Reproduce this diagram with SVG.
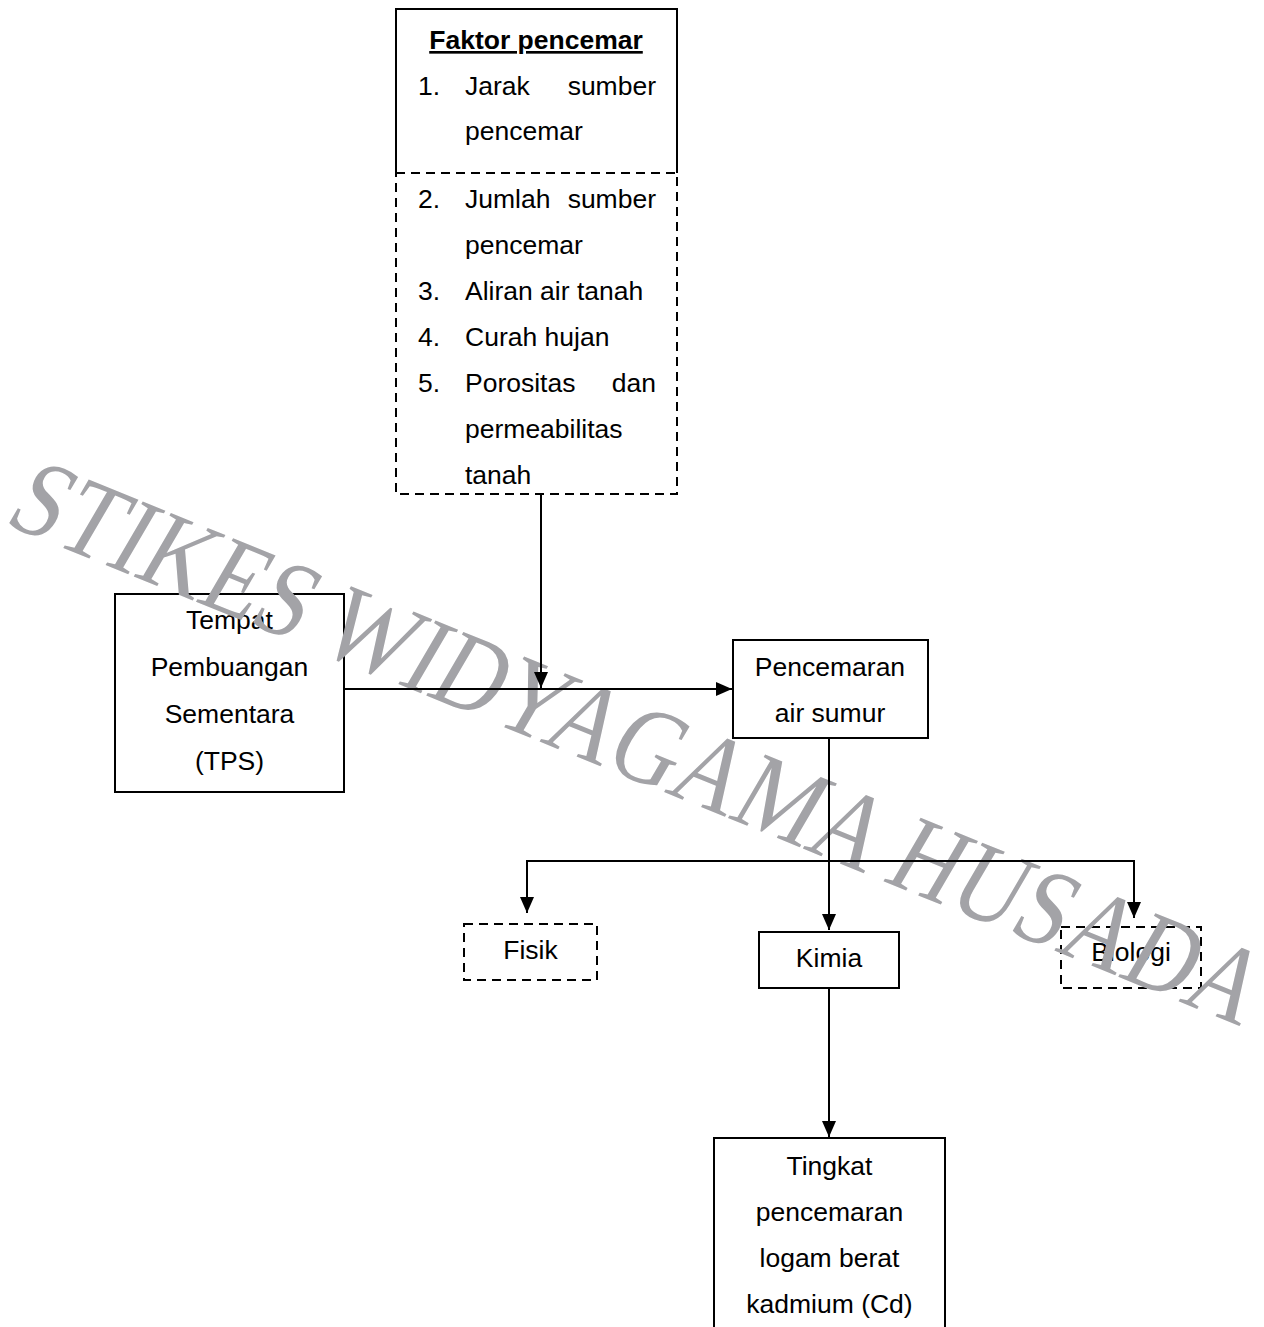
<svg xmlns="http://www.w3.org/2000/svg" width="1264" height="1327" viewBox="0 0 1264 1327">
<style>
  .t { font-family: "Liberation Sans", Arial, sans-serif; font-size: 26.5px; fill: #000; }
  .c { text-anchor: middle; }
  .e { text-anchor: end; }
  .box { fill: #fff; stroke: #000; stroke-width: 2; }
  .solid { fill: none; stroke: #000; stroke-width: 2; }
  .dash { fill: none; stroke: #000; stroke-width: 2; stroke-dasharray: 9 6; }
  .conn { fill: none; stroke: #000; stroke-width: 2; marker-end: url(#ah); }
  .line { fill: none; stroke: #000; stroke-width: 2; }
  .wm { font-family: "Liberation Serif", "Times New Roman", serif; font-size: 80px; fill: #a3a3a7; }
</style>
<defs>
  <marker id="ah" markerUnits="userSpaceOnUse" markerWidth="16" markerHeight="14" viewBox="0 0 16 14" refX="16" refY="7" orient="auto">
    <path d="M0,0 L16,7 L0,14 z" fill="#000"/>
  </marker>
</defs>
<rect width="1264" height="1327" fill="#fff"/>

<g id="faktor">
  <path class="solid" d="M396,173 V9 H677 V173"/>
  <path class="dash" d="M396,173 H677 V494 H396 Z"/>
  <text class="t c" x="536" y="49" font-weight="bold" text-decoration="underline">Faktor pencemar</text>
  <text class="t" x="418" y="95">1.</text>
  <text class="t" x="465" y="95">Jarak</text>
  <text class="t e" x="656" y="95">sumber</text>
  <text class="t" x="465" y="140">pencemar</text>
  <text class="t" x="418" y="208">2.</text>
  <text class="t" x="465" y="208">Jumlah</text>
  <text class="t e" x="656" y="208">sumber</text>
  <text class="t" x="465" y="254">pencemar</text>
  <text class="t" x="418" y="300">3.</text>
  <text class="t" x="465" y="300">Aliran air tanah</text>
  <text class="t" x="418" y="346">4.</text>
  <text class="t" x="465" y="346">Curah hujan</text>
  <text class="t" x="418" y="392">5.</text>
  <text class="t" x="465" y="392">Porositas</text>
  <text class="t e" x="656" y="392">dan</text>
  <text class="t" x="465" y="438">permeabilitas</text>
  <text class="t" x="465" y="484">tanah</text>
</g>

<g id="tps">
  <rect class="box" x="115" y="594" width="229" height="198"/>
  <text class="t c" x="229.5" y="629">Tempat</text>
  <text class="t c" x="229.5" y="676">Pembuangan</text>
  <text class="t c" x="229.5" y="723">Sementara</text>
  <text class="t c" x="229.5" y="770">(TPS)</text>
</g>

<g id="pencemaran">
  <rect class="box" x="733" y="640" width="195" height="98"/>
  <text class="t c" x="830" y="676">Pencemaran</text>
  <text class="t c" x="830" y="722">air sumur</text>
</g>

<g id="fisik">
  <rect x="464" y="924" width="133" height="56" class="dash"/>
  <text class="t c" x="530.5" y="959">Fisik</text>
</g>

<g id="kimia">
  <rect class="box" x="759" y="932" width="140" height="56"/>
  <text class="t c" x="829" y="967">Kimia</text>
</g>

<g id="biologi">
  <rect x="1061" y="927" width="140" height="61" class="dash"/>
  <text class="t c" x="1131" y="961">Biologi</text>
</g>

<g id="tingkat">
  <rect class="box" x="714" y="1138" width="231" height="210"/>
  <text class="t c" x="829.5" y="1175">Tingkat</text>
  <text class="t c" x="829.5" y="1221">pencemaran</text>
  <text class="t c" x="829.5" y="1267">logam berat</text>
  <text class="t c" x="829.5" y="1313">kadmium (Cd)</text>
</g>

<g id="watermark">
  <text class="wm" transform="translate(2,523) scale(1.2,1) rotate(26) scale(1,1.35)" x="0" y="0" textLength="1148" lengthAdjust="spacing">STIKES WIDYAGAMA HUSADA</text>
</g>

<g id="connectors">
  <path class="conn" d="M541,494 V688"/>
  <path class="conn" d="M345,689 H732"/>
  <path class="conn" d="M829,738 V930"/>
  <path class="line" d="M527,861 H1134"/>
  <path class="conn" d="M527,860 V913"/>
  <path class="conn" d="M1134,860 V918"/>
  <path class="conn" d="M829,988 V1137"/>
</g>
</svg>
